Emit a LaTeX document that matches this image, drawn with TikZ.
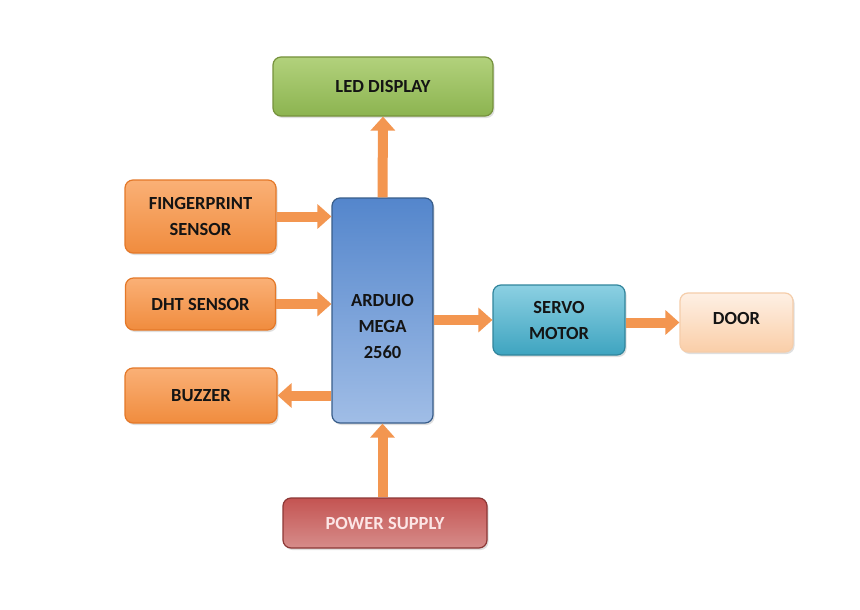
\documentclass[tikz,border=0pt]{standalone}
\usepackage{fontspec}
\setmainfont{Carlito}
\usetikzlibrary{arrows.meta,shadows,calc}
\definecolor{txt}{HTML}{141414}
\tikzset{
  box/.style={rounded corners=8pt, line width=1.2pt, align=center, inner sep=2pt,
    font=\fontsize{18.5}{26}\selectfont\bfseries, text=txt,
    drop shadow={opacity=0.25, shadow xshift=1.5pt, shadow yshift=-2pt}},
  obox/.style={box, draw={rgb,255:red,228;green,120;blue,40}, top color={rgb,255:red,250;green,176;blue,118}, bottom color={rgb,255:red,240;green,140;blue,62}},
  gbox/.style={box, draw={rgb,255:red,118;green,146;blue,60}, top color={rgb,255:red,178;green,209;blue,124}, bottom color={rgb,255:red,140;green,180;blue,80}},
  bbox/.style={box, draw={rgb,255:red,56;green,93;blue,138}, top color={rgb,255:red,84;green,134;blue,204}, bottom color={rgb,255:red,160;green,189;blue,230}},
  tbox/.style={box, draw={rgb,255:red,49;green,133;blue,156}, top color={rgb,255:red,140;green,208;blue,226}, bottom color={rgb,255:red,62;green,164;blue,192}},
  pbox/.style={box, draw={rgb,255:red,245;green,205;blue,170}, top color={rgb,255:red,254;green,240;blue,228}, bottom color={rgb,255:red,250;green,206;blue,168}},
  rbox/.style={box, draw={rgb,255:red,140;green,56;blue,54}, top color={rgb,255:red,196;green,84;blue,82}, bottom color={rgb,255:red,214;green,140;blue,138}, text={rgb,255:red,252;green,230;blue,230}},
  arr/.style={draw={rgb,255:red,243;green,150;blue,80}, line width=10pt,
    -{Triangle[width=24pt,length=14pt]}},
}
\begin{document}
\begin{tikzpicture}[x=1pt,y=-1pt]
\useasboundingbox (0,0) rectangle (860,610);
\fill[white] (0,0) rectangle (860,610);
\node[gbox, minimum width=220pt, minimum height=59pt] (led) at (383,86.5) {LED DISPLAY};
\node[obox, minimum width=151pt, minimum height=73pt] (fp) at (200.5,216.5) {FINGERPRINT\\SENSOR};
\node[obox, minimum width=150pt, minimum height=52pt] (dht) at (200.5,304) {DHT SENSOR};
\node[obox, minimum width=152pt, minimum height=55pt] (buz) at (201,395.5) {BUZZER};
\node[bbox, minimum width=101pt, minimum height=225pt] (ard) at (382.5,310.5)
  {\raisebox{-21pt}[0pt][0pt]{\begin{tabular}{@{}c@{}}ARDUIO\\MEGA\\2560\end{tabular}}};
\node[rbox, minimum width=204pt, minimum height=50pt] (pow) at (385,523) {POWER SUPPLY};
\node[tbox, minimum width=132pt, minimum height=70pt] (srv) at (559,320) {SERVO\\MOTOR};
\node[pbox, minimum width=113pt, minimum height=59pt] (door) at (736.5,322.5) {\raisebox{-1.5pt}[0pt][0pt]{DOOR}};
\draw[arr] (ard.north) -- (led.south);
\draw[arr] (fp.east) -- (fp.east -| ard.west);
\draw[arr] (dht.east) -- (dht.east -| ard.west);
\draw[arr] (ard.west |- buz.east) -- (buz.east);
\draw[arr] (ard.east |- srv.west) -- (srv.west);
\draw[arr] (srv.east |- door.west) -- (door.west);
\draw[arr] (pow.north -| ard.south) -- (ard.south);
\end{tikzpicture}
\end{document}
